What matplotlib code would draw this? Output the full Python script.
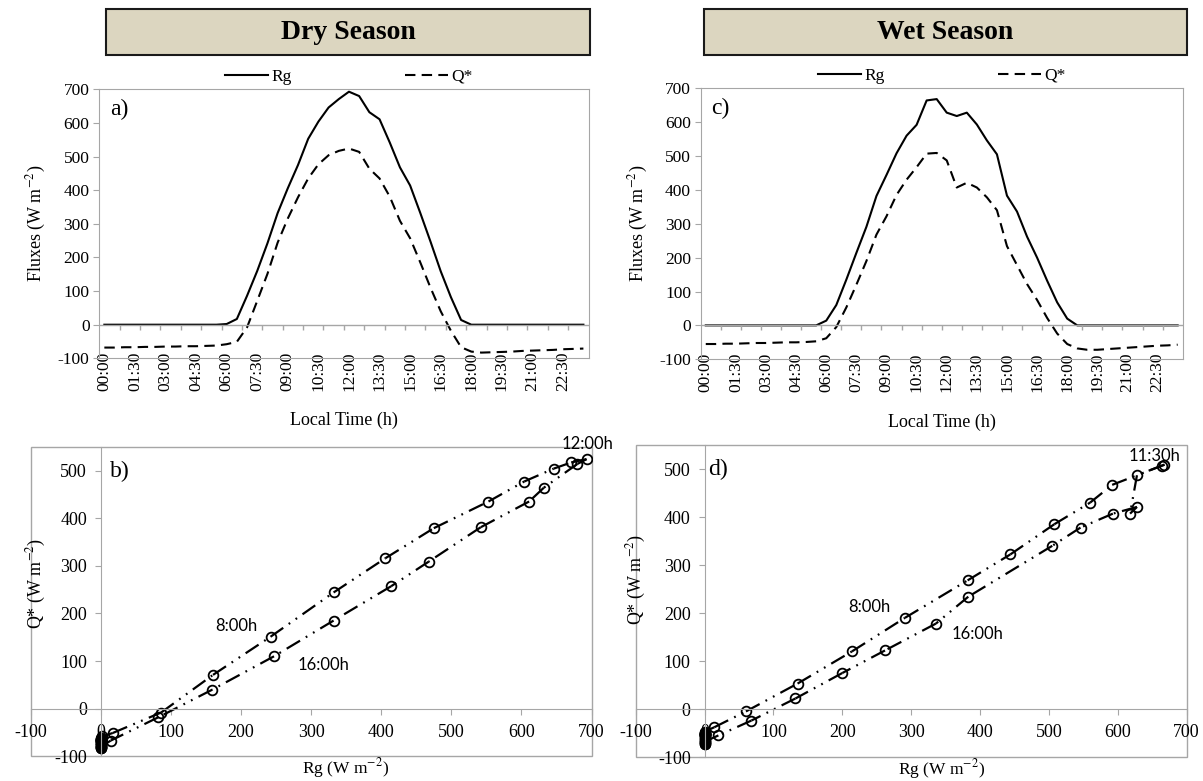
import numpy as np
import matplotlib.pyplot as plt
from matplotlib.patches import Rectangle

plt.rcParams['font.family'] = ['Liberation Serif', 'DejaVu Serif']
plt.rcParams['mathtext.fontset'] = 'stix'

# half-hourly local time, 00:00 .. 23:30
times = ['%02d:%02d' % (h, m) for h in range(24) for m in (0, 30)]

# Dry season (W m-2)
dry_rg = [0, 0, 0, 0, 0, 0, 0, 0, 0, 0, 0, 0,
          2, 17, 86, 160, 242, 332, 406, 475, 553, 604, 646, 671,
          693, 680, 632, 611, 542, 468, 414, 332, 247, 159, 82, 14,
          0, 0, 0, 0, 0, 0, 0, 0, 0, 0, 0, 0]
dry_qs = [-68, -68, -67, -67, -66, -66, -65, -65, -64, -64, -63, -62,
          -58, -51, -8, 71, 151, 244, 316, 379, 435, 477, 504, 517,
          524, 514, 464, 435, 381, 309, 257, 185, 110, 40, -18, -67,
          -80, -83, -82, -81, -80, -78, -77, -76, -75, -73, -72, -71]

# Wet season (W m-2)
wet_rg = [0, 0, 0, 0, 0, 0, 0, 0, 0, 0, 0, 0,
          14, 60, 135, 214, 291, 382, 444, 508, 560, 592, 664, 668,
          628, 618, 628, 593, 546, 505, 383, 336, 262, 200, 132, 68,
          20, 0, 0, 0, 0, 0, 0, 0, 0, 0, 0, 0]
wet_qs = [-55, -55, -54, -54, -53, -52, -52, -51, -50, -50, -49, -47,
          -38, -5, 53, 120, 190, 268, 322, 385, 430, 467, 507, 509,
          487, 407, 421, 407, 378, 340, 234, 178, 122, 75, 22, -24,
          -55, -68, -72, -72, -70, -68, -66, -64, -62, -60, -59, -57]

# annotations on the hysteresis plots: (text, Rg, Q*)
dry_notes = [('8:00h', 193, 174), ('16:00h', 317, 91), ('12:00h', 694, 556)]
wet_notes = [('8:00h', 240, 212), ('16:00h', 397, 156), ('11:30h', 654, 528)]

frame = '#a6a6a6'

fig = plt.figure(figsize=(12.03, 7.81), dpi=100)


def header(x, w, text):
    fig.patches.append(Rectangle((x, 0.9296), w, 0.0585, transform=fig.transFigure,
                                 facecolor='#dcd6c0', edgecolor='#1a1a1a', lw=1.5))
    fig.text(x + w / 2, 0.958, text, fontsize=20, fontweight='bold',
             ha='center', va='center')


def series_panel(rect, rg, qs, tag, legend_x):
    ax = fig.add_axes(rect)
    x = np.arange(len(rg))
    ax.plot(x, rg, color='black', lw=1.5, label='Rg')
    ax.plot(x, qs, color='black', lw=1.5, ls=(0, (5, 3)), label='Q*')
    ax.set_xlim(-0.5, 47.5)
    ax.set_ylim(-100, 700)
    yt = list(range(-100, 701, 100))
    ax.set_yticks(yt, [str(v) for v in yt])
    ax.set_xticks(x[::3], times[::3], rotation=90)
    ax.tick_params(axis='x', length=0, pad=-5, labelsize=12.5)
    ax.tick_params(axis='y', length=4, color=frame, labelsize=12.5, pad=3)
    for s in ax.spines.values():
        s.set_color(frame)
    ax.axhline(0, color=frame, lw=1)
    ax.vlines(np.arange(1.5, 47, 2), -15, 0, color=frame, lw=1)
    ax.set_ylabel('Fluxes (W m$^{-2}$)', fontsize=13)
    ax.yaxis.set_label_coords(-0.105, 0.5)
    ax.set_xlabel('Local Time (h)', fontsize=13)
    ax.xaxis.set_label_coords(0.5, -0.2)
    ax.text(0.022, 0.965, tag, transform=ax.transAxes, fontsize=17, va='top')
    ax.legend(loc='center', bbox_to_anchor=(legend_x, 1.047), ncol=2, frameon=False,
              fontsize=12.5, handlelength=2.5, handletextpad=0.2, columnspacing=6.5,
              borderaxespad=0)
    return ax


def loop_panel(rect, rg, qs, tag, tag_x, notes):
    ax = fig.add_axes(rect)
    for k in range(len(rg) - 1):
        ax.plot(rg[k:k + 2], qs[k:k + 2], color='black', lw=1.6,
                ls=(0, (7, 3, 0.8, 3, 0.8, 3)))
    ax.plot(rg, qs, ls='none', marker='o', ms=7, mfc='none', mec='black', mew=1.3)
    ax.set_xlim(-100, 700)
    ax.set_ylim(-100, 550)
    xt = list(range(-100, 701, 100))
    yt = list(range(-100, 501, 100))
    ax.set_xticks(xt, [str(v) for v in xt])
    ax.set_yticks(yt, [str(v) for v in yt])
    ax.spines['left'].set_position(('data', 0))
    ax.spines['bottom'].set_position(('data', 0))
    ax.spines['top'].set_visible(False)
    ax.spines['right'].set_visible(False)
    for s in ('left', 'bottom'):
        ax.spines[s].set_color(frame)
    ax.add_patch(Rectangle((0, 0), 1, 1, transform=ax.transAxes, fill=False,
                           edgecolor=frame, lw=1, clip_on=False))
    ax.tick_params(axis='x', length=4, color=frame, labelsize=13, pad=7)
    ax.tick_params(axis='y', length=4, color=frame, labelsize=13, pad=6)
    ax.set_ylabel('Q* (W m$^{-2}$)', fontsize=13)
    ax.set_xlabel('Rg (W m$^{-2}$)', fontsize=12.5)
    ax.text(tag_x, 0.955, tag, transform=ax.transAxes, fontsize=17, va='top')
    for txt, xv, yv in notes:
        ax.text(xv, yv, txt, fontfamily='Lato', fontsize=12, ha='center', va='center')
    return ax


header(0.088, 0.4028, 'Dry Season')
header(0.585, 0.4013, 'Wet Season')

series_panel([0.0825, 0.5412, 0.4067, 0.3444], dry_rg, dry_qs, 'a)', 0.51)
series_panel([0.5825, 0.540, 0.4006, 0.347], wet_rg, wet_qs, 'c)', 0.50)

b = loop_panel([0.0256, 0.0316, 0.4661, 0.3964], dry_rg, dry_qs, 'b)', 0.141, dry_notes)
b.yaxis.set_label_coords(0.031, 0.56)
b.xaxis.set_label_coords(0.562, 0.0)
d = loop_panel([0.5285, 0.0307, 0.4578, 0.3995], wet_rg, wet_qs, 'd)', 0.131, wet_notes)
d.yaxis.set_label_coords(0.022, 0.57)
d.xaxis.set_label_coords(0.556, 0.0)

fig.savefig('out.png', dpi=100)
